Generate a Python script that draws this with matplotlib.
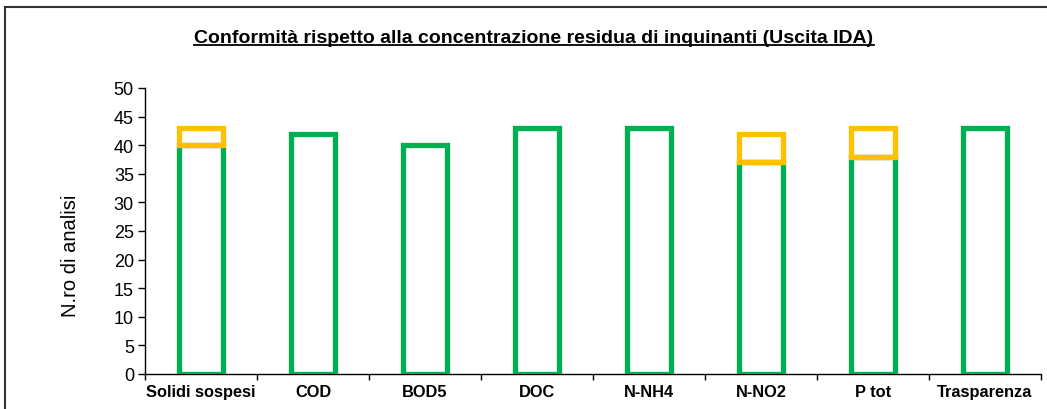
import matplotlib
matplotlib.use("Agg")
import matplotlib.pyplot as plt
from matplotlib.lines import Line2D
import numpy as np

plt.rcParams['font.family'] = ['Liberation Sans', 'DejaVu Sans']

categories = ["Solidi sospesi", "COD", "BOD5", "DOC", "N-NH4", "N-NO2", "P tot", "Trasparenza"]
conformi = [40, 42, 40, 43, 43, 37, 38, 43]
non_conformi = [3, 0, 0, 0, 0, 5, 5, 0]
y_ticks = [0, 5, 10, 15, 20, 25, 30, 35, 40, 45, 50]

GREEN = "#00B050"
ORANGE = "#FFC000"

fig = plt.figure(figsize=(10.47, 4.10), dpi=100)
ax = fig.add_axes([0.1385, 0.0854, 0.8558, 0.6976])

x = np.arange(len(categories))
width = 0.4
ax.bar(x, conformi, width, facecolor="none", edgecolor=GREEN, linewidth=3.8, zorder=3)
for xi, base, extra in zip(x, conformi, non_conformi):
    if extra > 0:
        ax.bar(xi, extra, width, bottom=base, facecolor="none",
               edgecolor=ORANGE, linewidth=3.8, zorder=4)

ax.set_xlim(-0.5, len(categories) - 0.5)
ax.set_ylim(0, 50)
ax.set_yticks(y_ticks)
ax.tick_params(axis="y", direction="out", length=5, width=1, labelsize=13, pad=3)

ax.set_xticks(x)
ax.set_xticklabels(categories, fontweight="bold", fontsize=11.8)
ax.set_xticks(np.arange(-0.5, len(categories)), minor=True)
ax.tick_params(axis="x", which="major", length=0, pad=7)
ax.tick_params(axis="x", which="minor", direction="out", length=4, width=1)

for s in ["top", "right"]:
    ax.spines[s].set_visible(False)
for s in ["left", "bottom"]:
    ax.spines[s].set_linewidth(1)
    ax.spines[s].set_color("black")

ax.set_ylabel("N.ro di analisi", fontsize=14.5)
ax.yaxis.set_label_coords(-0.072, 0.415)

title = fig.text(0.510, 0.907, "Conformità rispetto alla concentrazione residua di inquinanti (Uscita IDA)",
                 ha="center", va="center", fontsize=14, fontweight="bold")

# outer frame of the chart area
fig.add_artist(Line2D([0.005, 0.005], [0.0, 0.98], transform=fig.transFigure, color="#333333", linewidth=1.5))
fig.add_artist(Line2D([0.005, 1.0], [0.98, 0.98], transform=fig.transFigure, color="#333333", linewidth=1.5))

# underline the title
fig.canvas.draw()
bb = title.get_window_extent().transformed(fig.transFigure.inverted())
fig.add_artist(Line2D([bb.x0, bb.x1], [bb.y0 + 0.002, bb.y0 + 0.002],
                      transform=fig.transFigure, color="black", linewidth=1.3))

fig.savefig("out.png", dpi=100)
